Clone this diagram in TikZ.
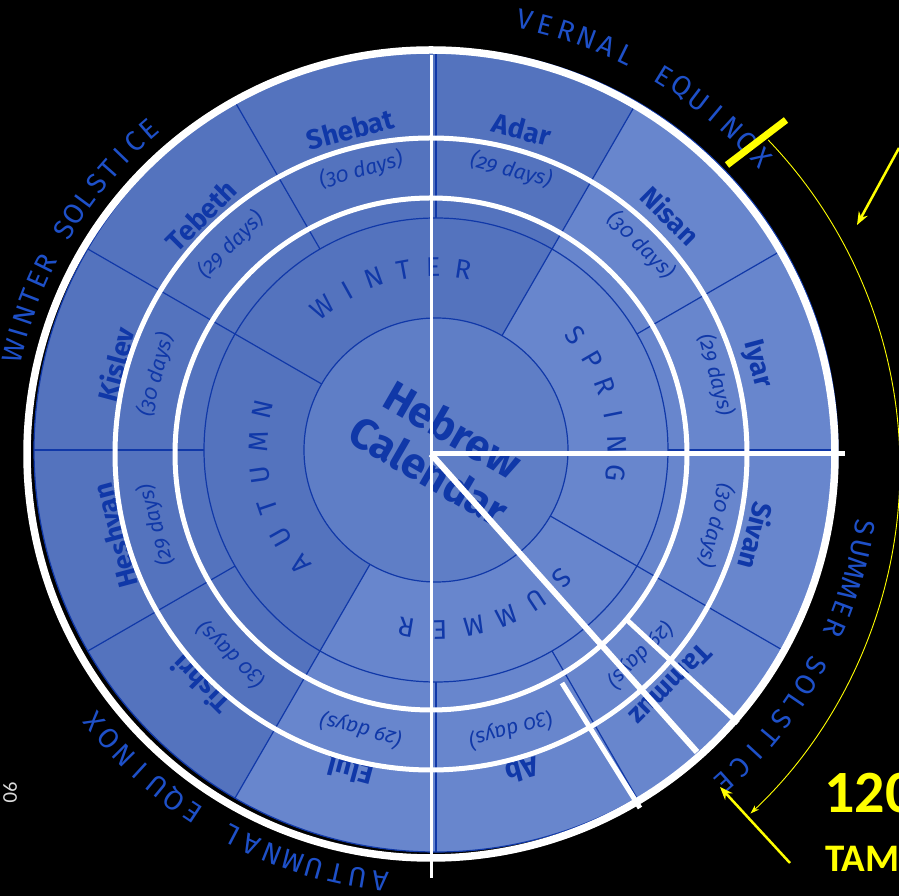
\documentclass[tikz,border=0pt]{standalone}
\usepackage{fontspec}
\setmainfont{Fira Sans}
\newfontfamily\calfont{Fira Sans}[Numbers=OldStyle]
\newfontfamily\yfont{Carlito}
\usetikzlibrary{arrows.meta,calc}
\definecolor{discdark}{RGB}{84,115,190}
\definecolor{disclight}{RGB}{104,134,205}
\definecolor{disccenter}{RGB}{95,126,198}
\definecolor{ink}{RGB}{16,56,168}
\definecolor{outerink}{RGB}{30,80,200}
\definecolor{slideyellow}{RGB}{255,255,0}
\definecolor{slidegray}{RGB}{220,220,220}
\newcommand\arcword[7]{%
  \foreach \ch [count=\i] in {#7}{%
    \pgfmathsetmacro\ang{#3-(\i-1)*(#4)}%
    \node[#6, rotate=\ang-90] (#1\i) at ($(#2)+(\ang:#5)$) {\ch};%
  }%
}
\begin{document}
\begin{tikzpicture}[x=1pt,y=1pt,
  monthname/.style={text=ink, font=\calfont\bfseries\fontsize{27.5}{27.5}\selectfont, inner sep=0pt},
  daystext/.style={text=ink, font=\calfont\itshape\fontsize{21}{21}\selectfont, inner sep=0pt},
  seasonletter/.style={text=ink, font=\calfont\fontsize{27}{27}\selectfont, inner sep=0pt},
  outerletter/.style={text=outerink, font=\calfont\fontsize{28}{28}\selectfont, inner sep=0pt},
  inkline/.style={draw=ink, line width=1.2pt},
  whiteline/.style={draw=white, line width=#1},
  yellowline/.style={draw=slideyellow, line width=#1},
]
\useasboundingbox (0,0) rectangle (899,896);
\clip (0,0) rectangle (899,896);
\fill[black] (0,0) rectangle (899,896);

\coordinate (W) at (431,442);
\coordinate (K) at (436,446);

% calendar disc
\begin{scope}[shift={(K)}]
  \fill[discdark] (0,0) circle (402);
  \fill[disclight] (-120:132) -- (-120:402) arc[start angle=-120, end angle=60, radius=402]
     -- (60:132) arc[start angle=60, end angle=-120, radius=132] -- cycle;
  \fill[disccenter] (0,0) circle (132);
  \draw[inkline] (0,0) circle (132);
  \draw[inkline] (0,0) circle (232);
  \draw[inkline] (0,0) circle (402);
  \foreach \a in {60,150,240,330} \draw[inkline] (\a:132) -- (\a:232);
  \foreach \a in {0,30,...,330} \draw[inkline] (\a:232) -- (\a:402);
  \foreach \a/\m/\d [count=\i] in {15/Iyar/29,45/Nisan/30,75/Adar/29,105/Shebat/30,
      135/Tebeth/29,165/Kislev/30,195/Heshvan/29,225/Tishri/30,255/Elul/29,
      285/Ab/30,315/Tammuz/29,345/Sivan/30}{
    \node[monthname, rotate=\a-90] (m\i) at (\a:332) {\m};
    \node[daystext, rotate=\a-90] (d\i) at (\a:290) {(\d\ days)};
  }
\end{scope}

\node[text=ink, font=\calfont\bfseries\fontsize{43}{48}\selectfont, align=center,
      rotate=-30, inner sep=0pt] (title) at ($(K)+(5,0)$) {Hebrew\\Calendar};

% season letters
\arcword{sw}{K}{128.5}{9.4}{183}{seasonletter}{W,I,N,T,E,R}
\arcword{sp}{K}{39.5}{9.4}{181}{seasonletter}{S,P,R,I,N,G}
\arcword{ss}{K}{-45.5}{10.8}{180}{seasonletter}{S,U,M,M,E,R}
\arcword{sa}{K}{220.2}{10.7}{178}{seasonletter}{A,U,T,U,M,N}

% outer labels
\arcword{va}{W}{77.8}{2.77}{444}{outerletter}{V,E,R,N,A,L}
\arcword{vb}{W}{58.4}{2.77}{444}{outerletter}{E,Q,U,I,N,O,X}
\arcword{wa}{W}{166.2}{2.51}{430}{outerletter}{W,I,N,T,E,R}
\arcword{wb}{W}{148.6}{2.51}{430}{outerletter}{S,O,L,S,T,I,C,E}
\arcword{ua}{W}{-9.6}{2.75}{440}{outerletter}{S,U,M,M,E,R}
\arcword{ub}{W}{-28.85}{2.75}{440}{outerletter}{S,O,L,S,T,I,C,E}
\arcword{aa}{W}{263.2}{2.98}{430}{outerletter}{A,U,T,U,M,N,A,L}
\arcword{ab}{W}{236.4}{2.98}{430}{outerletter}{E,Q,U,I,N,O,X}

% white overlay
\draw[whiteline=7.5pt] (W) circle (404);
\draw[whiteline=5pt] (W) circle (316);
\draw[whiteline=5pt] (W) circle (256);
\coordinate (vt) at (431,841);
\coordinate (vb) at (431,18);
\coordinate (hr) at (845,442);
\coordinate (dg) at (697,144);
\coordinate (s1a) at (627,276);
\coordinate (s1b) at (738,173);
\coordinate (s2a) at (562,213);
\coordinate (s2b) at (640,88);
\draw[whiteline=3pt] (vt) -- (vb);
\draw[whiteline=5pt] (W) -- (hr);
\draw[whiteline=6pt] (W) -- (dg);
\draw[whiteline=5pt] (s1a) -- (s1b);
\draw[whiteline=5pt] (s2a) -- (s2b);

% yellow annotations
\coordinate (ya) at (727,731);
\coordinate (yb) at (786,776);
\draw[yellowline=7pt] (ya) -- (yb);
\coordinate (arcc) at (426,428);
\draw[yellowline=0.9pt, -{Stealth[length=9pt,width=6pt]}]
   ($(arcc)+(43.8:474)$) arc[start angle=43.8, end angle=-46.8, radius=474];
\coordinate (a1s) at (899,748);
\coordinate (a1e) at (857,671);
\draw[yellowline=2.5pt, -{Stealth[length=13pt,width=10pt]}] (a1s) -- (a1e);
\coordinate (a2s) at (790,33);
\coordinate (a2e) at (720,109);
\draw[yellowline=2.5pt, -{Stealth[length=13pt,width=10pt]}] (a2s) -- (a2e);

\node[text=slideyellow, font=\yfont\bfseries\fontsize{60}{60}\selectfont, anchor=base west,
      inner sep=0pt] (num) at (824,83) {120};
\node[text=slideyellow, font=\yfont\bfseries\fontsize{39}{39}\selectfont, anchor=base west,
      inner sep=0pt] (tam) at (825,24) {TAM};
\node[text=slidegray, font=\yfont\fontsize{21}{21}\selectfont, rotate=-90,
      inner sep=0pt] (pg) at (10,104) {90};
\end{tikzpicture}
\end{document}
